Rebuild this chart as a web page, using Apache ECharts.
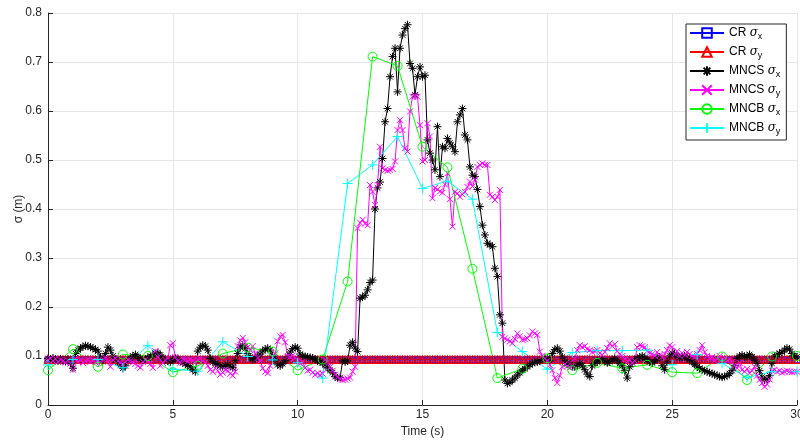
<!DOCTYPE html>
<html>
<head>
<meta charset="utf-8">
<script src="https://cdn.jsdelivr.net/npm/echarts@6/dist/echarts.min.js"></script>
<style>html,body{margin:0;padding:0;background:#fff;}#c{width:800px;height:442px;}</style>
</head>
<body>
<div id="c"></div>
<script>
// ---- tick labels ----
const xTicks = [0, 5, 10, 15, 20, 25, 30];
const yTicks = [0, 0.1, 0.2, 0.3, 0.4, 0.5, 0.6, 0.7, 0.8];

// ---- CR (constant levels, sampled every 0.1 s) ----
const crSigmaXLevel = 0.092;
const crSigmaYLevel = 0.093;

// ---- MNCS, sampled every 0.1 s (one row = one second) ----
const mncsSigmaX = [
  0.095,0.093,0.096,0.092,0.090,0.094,0.091,0.089,0.093,0.085,
  0.075,0.105,0.112,0.116,0.119,0.121,0.120,0.118,0.116,0.113,
  0.110,0.098,0.092,0.105,0.118,0.112,0.100,0.092,0.088,0.082,
  0.075,0.080,0.090,0.095,0.100,0.103,0.098,0.094,0.091,0.093,
  0.096,0.100,0.103,0.105,0.107,0.102,0.096,0.092,0.090,0.088,
  0.092,0.095,0.093,0.090,0.086,0.084,0.081,0.078,0.072,0.068,
  0.110,0.118,0.122,0.120,0.112,0.095,0.088,0.085,0.082,0.080,
  0.078,0.080,0.083,0.079,0.076,0.090,0.105,0.118,0.122,0.115,
  0.105,0.098,0.092,0.095,0.100,0.104,0.110,0.114,0.116,0.112,
  0.100,0.092,0.082,0.080,0.084,0.090,0.098,0.108,0.115,0.118,
  0.116,0.104,0.100,0.099,0.098,0.097,0.096,0.093,0.090,0.088,
  0.086,0.082,0.076,0.071,0.066,0.058,0.055,0.056,0.090,0.088,
  0.090,0.122,0.128,0.116,0.109,0.218,0.220,0.224,0.235,0.250,
  0.255,0.400,0.443,0.455,0.503,0.578,0.605,0.670,0.711,0.728,
  0.639,0.728,0.755,0.768,0.776,0.697,0.687,0.633,0.670,0.690,
  0.670,0.673,0.541,0.514,0.500,0.480,0.568,0.466,0.527,0.524,
  0.544,0.535,0.527,0.517,0.578,0.592,0.605,0.551,0.541,0.486,
  0.469,0.466,0.440,0.405,0.367,0.347,0.330,0.327,0.323,0.279,
  0.262,0.184,0.167,0.051,0.044,0.046,0.051,0.055,0.061,0.066,
  0.071,0.074,0.078,0.082,0.085,0.087,0.088,0.090,0.093,0.095,
  0.096,0.090,0.105,0.113,0.116,0.110,0.098,0.088,0.085,0.082,
  0.080,0.078,0.082,0.085,0.080,0.072,0.063,0.058,0.080,0.085,
  0.088,0.092,0.095,0.090,0.086,0.088,0.092,0.095,0.090,0.085,
  0.080,0.070,0.055,0.078,0.088,0.092,0.095,0.098,0.100,0.096,
  0.092,0.088,0.086,0.090,0.094,0.098,0.080,0.072,0.088,0.100,
  0.106,0.104,0.099,0.097,0.098,0.100,0.096,0.092,0.088,0.083,
  0.078,0.075,0.072,0.070,0.068,0.066,0.064,0.062,0.060,0.058,
  0.057,0.058,0.060,0.064,0.070,0.080,0.095,0.100,0.102,0.098,
  0.100,0.103,0.098,0.092,0.085,0.070,0.057,0.051,0.053,0.060,
  0.085,0.100,0.103,0.105,0.108,0.112,0.116,0.114,0.105,0.100,
  0.098
];
const mncsSigmaY = [
  0.092,0.095,0.090,0.094,0.088,0.092,0.090,0.087,0.091,0.085,
  0.072,0.095,0.088,0.092,0.086,0.090,0.093,0.088,0.091,0.087,
  0.090,0.085,0.093,0.096,0.088,0.078,0.092,0.095,0.090,0.086,
  0.083,0.088,0.092,0.090,0.087,0.084,0.080,0.076,0.088,0.092,
  0.090,0.084,0.076,0.110,0.098,0.080,0.086,0.092,0.095,0.122,
  0.126,0.098,0.090,0.086,0.094,0.092,0.089,0.093,0.090,0.088,
  0.092,0.095,0.090,0.086,0.080,0.072,0.068,0.075,0.070,0.062,
  0.066,0.072,0.070,0.064,0.060,0.068,0.120,0.132,0.137,0.128,
  0.118,0.112,0.120,0.105,0.096,0.090,0.075,0.068,0.065,0.080,
  0.098,0.105,0.130,0.140,0.143,0.128,0.100,0.098,0.101,0.096,
  0.090,0.085,0.088,0.076,0.070,0.072,0.066,0.062,0.065,0.061,
  0.064,0.092,0.088,0.078,0.070,0.062,0.057,0.053,0.051,0.052,
  0.054,0.056,0.068,0.078,0.361,0.372,0.378,0.370,0.367,0.449,
  0.435,0.408,0.449,0.527,0.483,0.480,0.478,0.480,0.482,0.497,
  0.561,0.582,0.561,0.524,0.517,0.599,0.629,0.631,0.629,0.571,
  0.497,0.500,0.575,0.548,0.422,0.443,0.440,0.436,0.433,0.450,
  0.473,0.420,0.364,0.435,0.432,0.425,0.430,0.435,0.445,0.456,
  0.446,0.460,0.486,0.490,0.493,0.490,0.490,0.429,0.425,0.418,
  0.425,0.439,0.139,0.136,0.133,0.130,0.126,0.135,0.146,0.140,
  0.133,0.134,0.136,0.142,0.150,0.146,0.143,0.109,0.100,0.095,
  0.090,0.082,0.071,0.055,0.045,0.060,0.078,0.083,0.079,0.076,
  0.080,0.095,0.112,0.122,0.118,0.120,0.114,0.112,0.108,0.110,
  0.112,0.106,0.102,0.108,0.116,0.126,0.120,0.124,0.110,0.104,
  0.100,0.094,0.088,0.092,0.086,0.090,0.118,0.122,0.120,0.118,
  0.110,0.106,0.104,0.100,0.108,0.102,0.098,0.104,0.112,0.122,
  0.118,0.104,0.110,0.100,0.106,0.102,0.108,0.104,0.100,0.098,
  0.104,0.112,0.122,0.108,0.100,0.096,0.098,0.090,0.094,0.100,
  0.092,0.096,0.090,0.094,0.088,0.080,0.075,0.086,0.072,0.068,
  0.074,0.065,0.070,0.078,0.060,0.051,0.045,0.037,0.042,0.052,
  0.070,0.072,0.068,0.070,0.066,0.068,0.070,0.068,0.067,0.068,
  0.068
];

// ---- MNCB, sampled every 1 s ----
const mncbTime = [0,1,2,3,4,5,6,7,8,9,10,11,12,13,14,15,16,17,18,19,20,21,22,23,24,25,26,27,28,29,30];
const mncbSigmaX = [0.071,0.114,0.078,0.103,0.100,0.067,0.080,0.105,0.117,0.109,0.071,0.093,0.252,0.711,0.692,0.527,0.485,0.278,0.055,0.074,0.095,0.071,0.086,0.075,0.082,0.067,0.065,0.099,0.051,0.099,0.100];
const mncbSigmaY = [0.082,0.093,0.093,0.076,0.121,0.073,0.069,0.129,0.099,0.092,0.086,0.055,0.452,0.490,0.548,0.442,0.457,0.420,0.148,0.109,0.073,0.107,0.111,0.111,0.112,0.082,0.103,0.085,0.056,0.068,0.068];

const sampleTime = mncsSigmaX.map((_, i) => i / 10);
const pairs = (t, v) => t.map((x, i) => [x, v[i]]);

const names = ['CR σx','CR σy','MNCS σx','MNCS σy','MNCB σx','MNCB σy'];
const richName = {
  'CR σx': '{n|CR }{s|σ}{b|x}',
  'CR σy': '{n|CR }{s|σ}{b|y}',
  'MNCS σx': '{n|MNCS }{s|σ}{b|x}',
  'MNCS σy': '{n|MNCS }{s|σ}{b|y}',
  'MNCB σx': '{n|MNCB }{s|σ}{b|x}',
  'MNCB σy': '{n|MNCB }{s|σ}{b|y}'
};

const asterisk = 'path://M5,0L5,10M0,5L10,5M1.5,1.5L8.5,8.5M8.5,1.5L1.5,8.5';
const cross = 'path://M0,0L10,10M10,0L0,10';
const plus = 'path://M5,0L5,10M0,5L10,5';

function mk(name, data, color, symbol, size) {
  return {
    name, type: 'line', data, symbol, symbolSize: size,
    showAllSymbol: true,
    lineStyle: { color, width: 1 },
    itemStyle: { color: 'rgba(0,0,0,0)', borderColor: color, borderWidth: 1 },
    emphasis: { disabled: true },
    animation: false
  };
}

const chart = echarts.init(document.getElementById('c'), null, { renderer: 'canvas' });
const font = 'Liberation Sans, Arial, Helvetica, sans-serif';
chart.setOption({
  backgroundColor: '#fff',
  animation: false,
  grid: { left: 48, right: 3, top: 13, bottom: 37, containLabel: false, outerBoundsMode: 'none' },
  xAxis: {
    type: 'value', min: 0, max: 30, interval: 5,
    name: 'Time (s)', nameLocation: 'middle', nameGap: 21, nameMoveOverlap: false,
    nameTextStyle: { color: '#262626', fontSize: 12, fontFamily: font },
    axisLine: { show: true, lineStyle: { color: '#262626', width: 1 } },
    axisTick: { show: true, inside: true, length: 5, lineStyle: { color: '#262626' } },
    axisLabel: { color: '#262626', fontSize: 12, fontFamily: font, margin: 4,
      formatter: v => xTicks.includes(v) ? String(v) : '' },
    splitLine: { show: true, lineStyle: { color: '#e6e6e6', width: 1 } }
  },
  yAxis: {
    type: 'value', min: 0, max: 0.8, interval: 0.1,
    name: 'σ (m)', nameLocation: 'middle', nameGap: 23, nameRotate: 90, nameMoveOverlap: false,
    nameTextStyle: { color: '#262626', fontSize: 12, fontFamily: font },
    axisLine: { show: true, lineStyle: { color: '#262626', width: 1 } },
    axisTick: { show: true, inside: true, length: 5, lineStyle: { color: '#262626' } },
    axisLabel: { color: '#262626', fontSize: 12, fontFamily: font, margin: 6,
      formatter: v => { const t = yTicks.find(k => Math.abs(k - v) < 1e-9); return t === undefined ? '' : (t === 0 ? '0' : t.toFixed(1)); } },
    splitLine: { show: true, lineStyle: { color: '#e6e6e6', width: 1 } }
  },
  legend: {
    data: names, orient: 'vertical', left: 686, top: 24,
    padding: [3, 6, 4, 3], itemGap: 5, itemWidth: 34, itemHeight: 12,
    backgroundColor: '#fff', borderColor: '#262626', borderWidth: 1,
    selectedMode: false,
    formatter: n => richName[n],
    textStyle: {
      color: '#000', fontFamily: font, fontSize: 12,
      rich: {
        n: { fontSize: 12, fontFamily: font, color: '#000' },
        s: { fontSize: 12, fontFamily: 'DejaVu Serif, serif', fontStyle: 'italic', color: '#000' },
        b: { fontSize: 9, fontFamily: font, color: '#000', padding: [7, 0, 0, 0] }
      }
    }
  },
  series: [
    mk('CR σx', sampleTime.map(t => [t, crSigmaXLevel]), '#0000ff', 'rect', 6),
    mk('CR σy', sampleTime.map(t => [t, crSigmaYLevel]), '#ff0000', 'triangle', 8),
    mk('MNCS σx', pairs(sampleTime, mncsSigmaX), '#000000', asterisk, 8),
    mk('MNCS σy', pairs(sampleTime, mncsSigmaY), '#ff00ff', cross, 6),
    mk('MNCB σx', pairs(mncbTime, mncbSigmaX), '#00ff00', 'circle', 9),
    mk('MNCB σy', pairs(mncbTime, mncbSigmaY), '#00ffff', plus, 10)
  ]
});
</script>
</body>
</html>
